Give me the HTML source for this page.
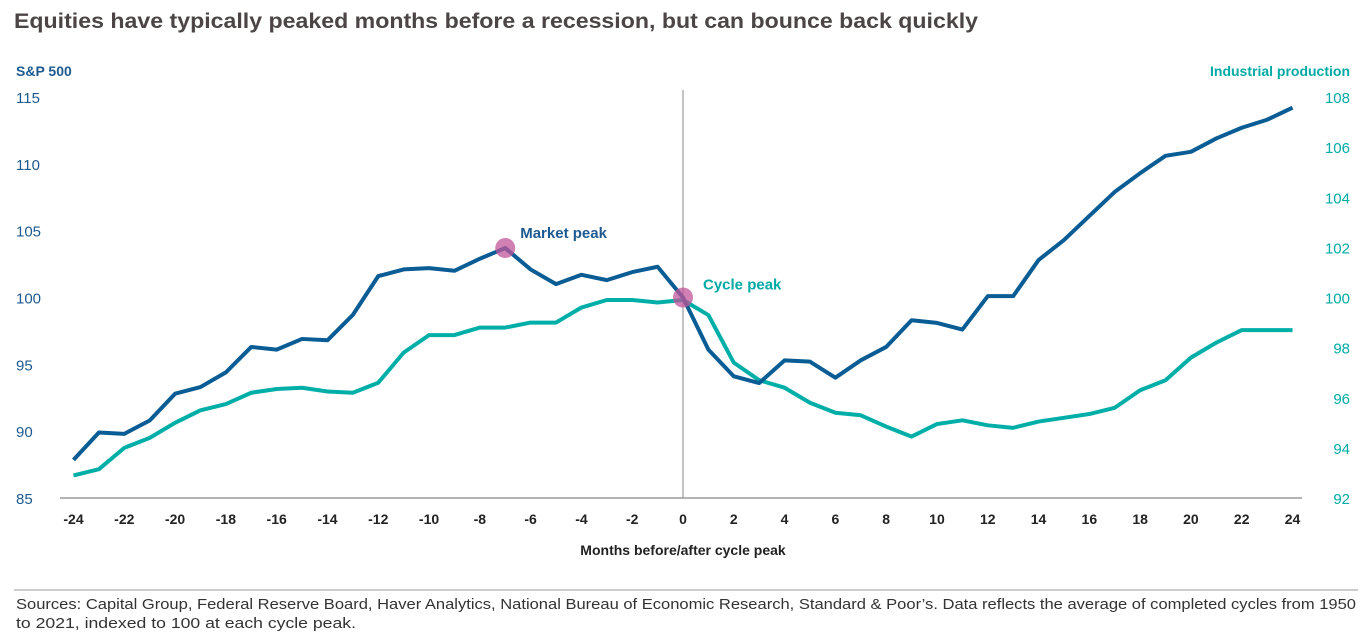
<!DOCTYPE html>
<html><head><meta charset="utf-8"><style>
body{margin:0;background:#fff;font-family:"Liberation Sans",sans-serif;}
</style></head><body>
<svg width="1372" height="636" viewBox="0 0 1372 636" xmlns="http://www.w3.org/2000/svg">
<text x="14" y="28" font-size="21" font-weight="bold" fill="#4b4645" textLength="964" lengthAdjust="spacingAndGlyphs">Equities have typically peaked months before a recession, but can bounce back quickly</text>
<text x="16" y="76" font-size="14" font-weight="bold" fill="#1d5a91">S&amp;P 500</text>
<text x="1350" y="76" font-size="14" font-weight="bold" fill="#00aaa5" text-anchor="end">Industrial production</text>
<g id="axes"></g>
<g id="lines"></g>
<text x="683" y="555" font-size="14" font-weight="bold" fill="#222" text-anchor="middle">Months before/after cycle peak</text>
<line x1="14" y1="590" x2="1358" y2="590" stroke="#999" stroke-width="1"/>
<text x="16" y="609" font-size="14.5" fill="#333" textLength="1340" lengthAdjust="spacingAndGlyphs">Sources: Capital Group, Federal Reserve Board, Haver Analytics, National Bureau of Economic Research, Standard &amp; Poor’s. Data reflects the average of completed cycles from 1950</text>
<text x="16" y="628" font-size="14.5" fill="#333" textLength="340" lengthAdjust="spacingAndGlyphs">to 2021, indexed to 100 at each cycle peak.</text>
</svg>
<script>
const months=[];for(let m=-24;m<=24;m++)months.push(m);
const sp500=[87.85,89.9,89.8,90.8,92.8,93.3,94.4,96.3,96.1,96.9,96.8,98.7,101.6,102.1,102.2,102.0,102.9,103.7,102.1,101.0,101.7,101.3,101.9,102.3,100,96.1,94.1,93.6,95.3,95.2,94.0,95.3,96.3,98.3,98.1,97.6,100.1,100.1,102.8,104.3,106.1,107.9,109.3,110.6,110.9,111.9,112.7,113.3,114.2];
const indProd=[92.9,93.15,94.0,94.4,95.0,95.5,95.75,96.2,96.35,96.4,96.25,96.2,96.6,97.8,98.5,98.5,98.8,98.8,99.0,99.0,99.6,99.9,99.9,99.8,99.9,99.3,97.4,96.7,96.4,95.8,95.4,95.3,94.85,94.45,94.95,95.1,94.9,94.8,95.05,95.2,95.35,95.6,96.3,96.7,97.6,98.2,98.7,98.7,98.7];
const leftTicks=[85,90,95,100,105,110,115];
const rightTicks=[92,94,96,98,100,102,104,106,108];
const xTicks=[-24,-22,-20,-18,-16,-14,-12,-10,-8,-6,-4,-2,0,2,4,6,8,10,12,14,16,18,20,22,24];
const NS="http://www.w3.org/2000/svg";
const X=m=>683+m*(1219/48);
const YL=v=>498-(v-85)*(401/30);
const YR=v=>498-(v-92)*(401/16);
const axes=document.getElementById('axes'),lines=document.getElementById('lines');
function mk(tag,attrs,parent,txt){const e=document.createElementNS(NS,tag);for(const k in attrs)e.setAttribute(k,attrs[k]);if(txt!==undefined)e.textContent=txt;parent.appendChild(e);return e;}
let e=mk('line',{x1:60,y1:498,x2:1302,y2:498,stroke:'#888','stroke-width':1.2},axes);


e=mk('line',{x1:683,y1:90,x2:683,y2:498,stroke:'#888','stroke-width':1},axes);


leftTicks.forEach(v=>{const t=mk('text',{x:16,y:YL(v)+6,'font-size':15,fill:'#1d5a91'},axes,v);

});
rightTicks.forEach(v=>{const t=mk('text',{x:1350,y:YR(v)+6,'font-size':15,fill:'#00aaa5','text-anchor':'end'},axes,v);

});
xTicks.forEach(m=>{const t=mk('text',{x:X(m),y:524,'font-size':14,'font-weight':'bold',fill:'#222','text-anchor':'middle'},axes,m<0?'-'+Math.abs(m):m);

});
let p=mk('polyline',{points:indProd.map((v,i)=>X(months[i])+','+YR(v)).join(' '),fill:'none',stroke:'#00aea8','stroke-width':4,'stroke-linejoin':'round'},lines);


p=mk('polyline',{points:sp500.map((v,i)=>X(months[i])+','+YL(v)).join(' '),fill:'none',stroke:'#0a5c95','stroke-width':4,'stroke-linejoin':'round'},lines);


const mi=months.indexOf(-7),ci=months.indexOf(0);
let c=mk('circle',{cx:X(-7),cy:YL(sp500[mi]),r:10,fill:'#c0569a','fill-opacity':0.75},lines);


c=mk('circle',{cx:X(0),cy:YL(sp500[ci]),r:10,fill:'#c0569a','fill-opacity':0.75},lines);


let t=mk('text',{x:X(-7)+15,y:YL(sp500[mi])-10,'font-size':15,'font-weight':'bold',fill:'#1d5a91'},lines,'Market peak');


t=mk('text',{x:X(0)+20,y:YL(100)-8,'font-size':15,'font-weight':'bold',fill:'#00aaa5'},lines,'Cycle peak');


</script>
</body></html>
